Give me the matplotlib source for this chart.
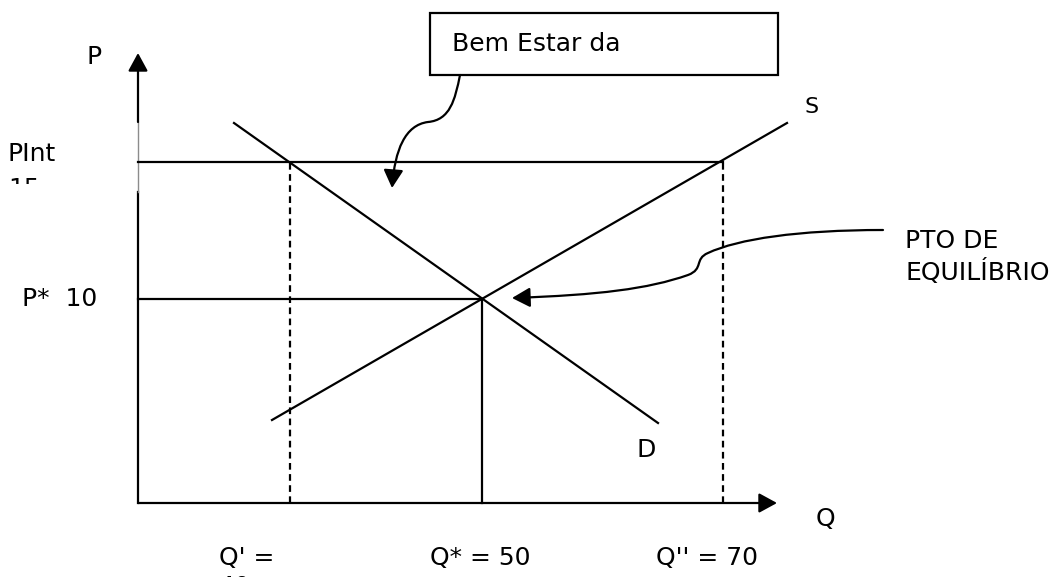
import matplotlib
matplotlib.use("Agg")
from matplotlib import pyplot as plt
from matplotlib.patches import FancyArrowPatch, Rectangle
from matplotlib.path import Path

# diagram units: origin where the axes meet
q_marks = [15.2, 34.4, 58.5]            # Q', Q*, Q''
q_labels = ["Q' =\n40", "Q* = 50", "Q'' = 70"]
p_int = 34.1
p_star = 20.4
p_labels = ["PInt\n15", "P*  10"]

demand_q = [9.6, 52.0]
demand_p = [38.0, 8.0]
supply_q = [13.4, 64.9]
supply_p = [8.3, 38.0]

q_axis_end = 63.9
p_axis_end = 45.0

plt.rcParams['font.family'] = ['DejaVu Sans']
fs = 18
lw = 1.6
head = '-|>,head_length=0.55,head_width=0.3'

fig = plt.figure(figsize=(10.57, 5.77), dpi=100)
ax = fig.add_axes([0, 0, 1, 1])
ax.set_xlim(-13.8, 91.9)
ax.set_ylim(-7.4, 50.3)
ax.axis('off')

# axes with arrow heads (a text frame hides part of the P axis)
ax.plot([0, 0], [0, 31.1], color='k', lw=lw)
ax.plot([0, 0], [31.1, 38.1], color='0.55', lw=1.0)
ax.annotate('', xy=(0, p_axis_end), xytext=(0, 38.1),
            arrowprops=dict(arrowstyle=head, mutation_scale=20, lw=lw,
                            color='k', shrinkA=0, shrinkB=0))
ax.annotate('', xy=(q_axis_end, 0), xytext=(0, 0),
            arrowprops=dict(arrowstyle=head, mutation_scale=20, lw=lw,
                            color='k', shrinkA=0, shrinkB=0))

# price lines
ax.plot([0, q_marks[2]], [p_int, p_int], color='k', lw=lw)
ax.plot([0, q_marks[1]], [p_star, p_star], color='k', lw=lw)

# quantity lines
ax.plot([q_marks[0], q_marks[0]], [0, p_int], color='k', lw=lw, linestyle=(0, (3, 2)))
ax.plot([q_marks[2], q_marks[2]], [0, p_int], color='k', lw=lw, linestyle=(0, (3, 2)))
ax.plot([q_marks[1], q_marks[1]], [0, p_star], color='k', lw=lw)

# demand and supply
ax.plot(demand_q, demand_p, color='k', lw=lw)
ax.plot(supply_q, supply_p, color='k', lw=lw)

# labels
ax.text(-4.35, 44.6, "P", fontsize=fs, ha='center', va='center')
ax.text(-13.0, 36.1, p_labels[0], fontsize=fs, ha='left', va='top',
        linespacing=1.6, zorder=2)
# the second line of the PInt label is hidden by its frame
ax.add_patch(Rectangle((-13.8, 24.0), 13.5, 7.9, fc='white', ec='none', zorder=3))
ax.text(-11.6, p_star, p_labels[1], fontsize=fs, ha='left', va='center', zorder=4)
ax.text(67.4, 39.6, "S", fontsize=fs - 2, ha='center', va='center')
ax.text(50.8, 5.3, "D", fontsize=fs, ha='center', va='center')
ax.text(68.7, -1.6, "Q", fontsize=fs, ha='center', va='center')
ax.text(8.1, -4.3, q_labels[0], fontsize=fs, ha='left', va='top', linespacing=1.25)
ax.text(q_marks[1] - 0.2, -4.3, q_labels[1], fontsize=fs, ha='center', va='top')
ax.text(q_marks[2] - 1.6, -4.3, q_labels[2], fontsize=fs, ha='center', va='top')
ax.text(76.7, 24.6, "PTO DE\nEQUILÍBRIO", fontsize=fs, ha='left', va='center',
        linespacing=1.3)

# text box
ax.add_patch(Rectangle((29.2, 42.8), 34.8, 6.2, fill=False, lw=lw, ec='k'))
ax.text(31.4, 45.9, "Bem Estar da", fontsize=fs, ha='left', va='center')

# curved pointers
bem_path = Path([(32.2, 42.8), (31.7, 40.3), (31.2, 38.3), (29.0, 38.1),
                 (26.7, 37.8), (25.7, 35.3), (25.4, 31.5)],
                [Path.MOVETO, Path.CURVE4, Path.CURVE4, Path.CURVE4,
                 Path.CURVE4, Path.CURVE4, Path.CURVE4])
ax.add_patch(FancyArrowPatch(path=bem_path, transform=ax.transData,
                             arrowstyle=head, mutation_scale=20, lw=lw, color='k'))

pto_path = Path([(74.5, 27.3), (66.0, 27.3), (60.0, 26.4), (57.0, 25.0),
                 (55.6, 24.4), (56.6, 23.4), (55.0, 22.8),
                 (51.0, 21.4), (46.0, 20.8), (37.4, 20.5)],
                [Path.MOVETO, Path.CURVE4, Path.CURVE4, Path.CURVE4,
                 Path.CURVE4, Path.CURVE4, Path.CURVE4,
                 Path.CURVE4, Path.CURVE4, Path.CURVE4])
ax.add_patch(FancyArrowPatch(path=pto_path, transform=ax.transData,
                             arrowstyle=head, mutation_scale=20, lw=lw, color='k'))

fig.savefig("out.png", dpi=100)
